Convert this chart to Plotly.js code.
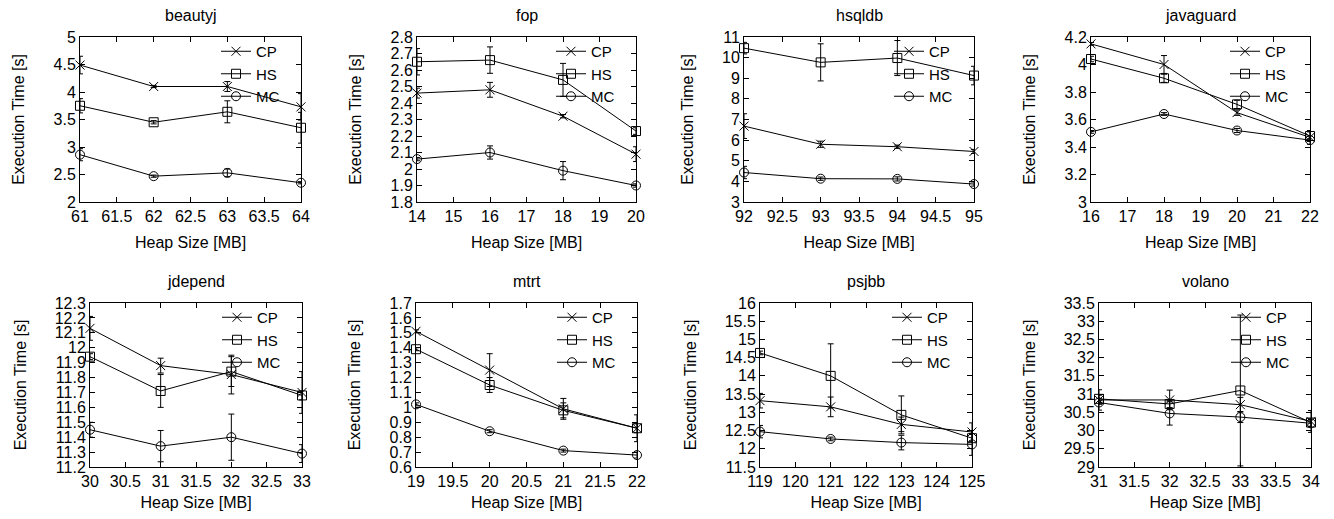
<!DOCTYPE html>
<html>
<head>
<meta charset="utf-8">
<script src="https://cdn.plot.ly/plotly-3.0.1.min.js"></script>
<style>html,body{margin:0;padding:0;background:#fff;}#chart{width:1334px;height:519px;}</style>
</head>
<body>
<div id="chart"></div>
<script>
// ---------- data ----------
const benchmarks = ['beautyj', 'fop', 'hsqldb', 'javaguard', 'jdepend', 'mtrt', 'psjbb', 'volano'];
const seriesNames = ['CP', 'HS', 'MC'];

const beautyjHeap = [61, 62, 63, 64];
const beautyjCP = [4.49, 4.10, 4.10, 3.73];
const beautyjCPErr = [0.16, 0.02, 0.09, 0.24];
const beautyjHS = [3.75, 3.45, 3.64, 3.35];
const beautyjHSErr = [0.13, 0.03, 0.20, 0.28];
const beautyjMC = [2.86, 2.47, 2.53, 2.35];
const beautyjMCErr = [0.11, 0.02, 0.07, 0.02];

const fopHeap = [14, 16, 18, 20];
const fopCP = [2.46, 2.48, 2.32, 2.09];
const fopCPErr = [0.03, 0.045, 0.01, 0.045];
const fopHS = [2.65, 2.66, 2.54, 2.23];
const fopHSErr = [0.08, 0.08, 0.10, 0.02];
const fopMC = [2.06, 2.10, 1.99, 1.90];
const fopMCErr = [0.01, 0.04, 0.055, 0.01];

const hsqldbHeap = [92, 93, 94, 95];
const hsqldbCP = [6.68, 5.80, 5.68, 5.45];
const hsqldbCPErr = [0.6, 0.15, 0.08, 0.1];
const hsqldbHS = [10.46, 9.77, 9.98, 9.13];
const hsqldbHSErr = [0.28, 0.9, 0.85, 0.45];
const hsqldbMC = [4.43, 4.13, 4.12, 3.87];
const hsqldbMCErr = [0.3, 0.08, 0.1, 0.1];

const javaguardHeap = [16, 18, 20, 22];
const javaguardCP = [4.15, 4.00, 3.65, 3.47];
const javaguardCPErr = [0.01, 0.065, 0.02, 0.05];
const javaguardHS = [4.04, 3.90, 3.71, 3.48];
const javaguardHSErr = [0.02, 0.03, 0.03, 0.03];
const javaguardMC = [3.51, 3.64, 3.52, 3.45];
const javaguardMCErr = [0.01, 0.01, 0.015, 0.01];

const jdependHeap = [30, 31, 32, 33];
const jdependCP = [12.13, 11.88, 11.82, 11.70];
const jdependCPErr = [0.08, 0.05, 0.13, 0.14];
const jdependHS = [11.94, 11.71, 11.84, 11.68];
const jdependHSErr = [0.02, 0.11, 0.10, 0.03];
const jdependMC = [11.45, 11.34, 11.40, 11.29];
const jdependMCErr = [0.05, 0.105, 0.155, 0.06];

const mtrtHeap = [19, 20, 21, 22];
const mtrtCP = [1.51, 1.25, 0.99, 0.86];
const mtrtCPErr = [0.01, 0.11, 0.07, 0.09];
const mtrtHS = [1.39, 1.15, 0.98, 0.86];
const mtrtHSErr = [0.01, 0.05, 0.05, 0.03];
const mtrtMC = [1.02, 0.84, 0.71, 0.68];
const mtrtMCErr = [0.01, 0.01, 0.01, 0.02];

const psjbbHeap = [119, 121, 123, 125];
const psjbbCP = [13.32, 13.15, 12.67, 12.46];
const psjbbCPErr = [0.2, 0.27, 0.2, 0.25];
const psjbbHS = [14.63, 14.00, 12.93, 12.29];
const psjbbHSErr = [0.05, 0.88, 0.52, 0.1];
const psjbbMC = [12.47, 12.27, 12.17, 12.12];
const psjbbMCErr = [0.17, 0.05, 0.2, 0.3];

const volanoHeap = [31, 32, 33, 34];
const volanoCP = [30.84, 30.84, 30.71, 30.25];
const volanoCPErr = [0.28, 0.27, 0.2, 0.3];
const volanoHS = [30.87, 30.73, 31.10, 30.22];
const volanoHSErr = [0.1, 0.1, 2.07, 0.1];
const volanoMC = [30.77, 30.47, 30.37, 30.20];
const volanoMCErr = [0.05, 0.32, 0.15, 0.1];

const panelData = {
  beautyj: [beautyjHeap, [beautyjCP, beautyjHS, beautyjMC], [beautyjCPErr, beautyjHSErr, beautyjMCErr]],
  fop: [fopHeap, [fopCP, fopHS, fopMC], [fopCPErr, fopHSErr, fopMCErr]],
  hsqldb: [hsqldbHeap, [hsqldbCP, hsqldbHS, hsqldbMC], [hsqldbCPErr, hsqldbHSErr, hsqldbMCErr]],
  javaguard: [javaguardHeap, [javaguardCP, javaguardHS, javaguardMC], [javaguardCPErr, javaguardHSErr, javaguardMCErr]],
  jdepend: [jdependHeap, [jdependCP, jdependHS, jdependMC], [jdependCPErr, jdependHSErr, jdependMCErr]],
  mtrt: [mtrtHeap, [mtrtCP, mtrtHS, mtrtMC], [mtrtCPErr, mtrtHSErr, mtrtMCErr]],
  psjbb: [psjbbHeap, [psjbbCP, psjbbHS, psjbbMC], [psjbbCPErr, psjbbHSErr, psjbbMCErr]],
  volano: [volanoHeap, [volanoCP, volanoHS, volanoMC], [volanoCPErr, volanoHSErr, volanoMCErr]]
};

// ---------- layout settings ----------
const W = 1334, H = 519;
// plot-area pixel boxes [left, right, top, bottom]
const boxes = [
  [80, 301, 37, 202], [417, 636, 37, 202], [744, 974, 37, 202], [1091, 1310, 37, 202],
  [90, 302, 303, 467], [416, 637, 303, 467], [760, 972, 303, 467], [1099, 1311, 303, 467]
];
const xRanges = [[61, 64], [14, 20], [92, 95], [16, 22], [30, 33], [19, 22], [119, 125], [31, 34]];
const xDticks = [0.5, 1, 0.5, 1, 0.5, 0.5, 1, 0.5];
const yRanges = [[2, 5], [1.8, 2.8], [3, 11], [3, 4.2], [11.2, 12.3], [0.6, 1.7], [11.5, 16], [29, 33.5]];
const yDticks = [0.5, 0.1, 1, 0.2, 0.1, 0.1, 0.5, 0.5];
const symbols = ['x-thin-open', 'square-open', 'circle-open'];
const FONT = 'Liberation Sans, Arial, Helvetica, sans-serif';

const traces = [];
const layout = {
  width: W, height: H,
  margin: {l: 0, r: 0, t: 0, b: 0},
  paper_bgcolor: '#ffffff', plot_bgcolor: '#ffffff',
  font: {family: FONT, size: 16, color: '#000'},
  showlegend: true,
  annotations: []
};

benchmarks.forEach((name, i) => {
  const n = i + 1;
  const suffix = n === 1 ? '' : String(n);
  const [heap, vals, errs] = panelData[name];
  const [l, r, t, b] = boxes[i];
  const legendId = 'legend' + suffix;
  const row2 = i >= 4;
  seriesNames.forEach((s, k) => {
    traces.push({
      type: 'scatter', mode: 'lines+markers',
      name: s, x: heap, y: vals[k],
      xaxis: 'x' + suffix, yaxis: 'y' + suffix,
      legend: legendId,
      line: {color: '#000', width: 1},
      marker: {symbol: symbols[k], size: 9, color: '#000', line: {color: '#000', width: 1}},
      error_y: {type: 'data', array: errs[k], visible: true, color: '#000', thickness: 1, width: 3},
      cliponaxis: false,
      hoverinfo: 'x+y+name'
    });
  });
  const common = {
    showline: true, linecolor: '#000', linewidth: 1, mirror: 'ticks',
    ticks: 'inside', ticklen: 5, tickwidth: 1, tickcolor: '#000',
    showgrid: false, zeroline: false,
    tickfont: {family: FONT, size: 16, color: '#000'}
  };
  layout['xaxis' + suffix] = Object.assign({}, common, {
    domain: [l / W, r / W],
    anchor: 'y' + suffix,
    range: xRanges[i], dtick: xDticks[i], tick0: xRanges[i][0],
    title: {text: 'Heap Size [MB]', font: {family: FONT, size: 16, color: '#000'}, standoff: row2 ? 7 : 12}
  });
  layout['yaxis' + suffix] = Object.assign({}, common, {
    domain: [1 - b / H, 1 - t / H],
    anchor: 'x' + suffix,
    range: yRanges[i], dtick: yDticks[i], tick0: yRanges[i][0],
    title: {text: 'Execution Time [s]', font: {family: FONT, size: 16, color: '#000'}, standoff: 24}
  });
  layout[legendId] = {
    x: (r - 16) / W, y: 1 - (t - 2) / H, xanchor: 'right', yanchor: 'top',
    bgcolor: 'rgba(0,0,0,0)', borderwidth: 0,
    font: {family: FONT, size: 15, color: '#000'},
    tracegroupgap: 0, itemclick: false, itemdoubleclick: false
  };
  layout.annotations.push({
    text: name, xref: 'paper', yref: 'paper',
    x: (l + r) / 2 / W, y: 1 - (t - 22) / H,
    xanchor: 'center', yanchor: 'middle', showarrow: false,
    font: {family: FONT, size: 16, color: '#000'}
  });
});

Plotly.newPlot('chart', traces, layout, {displayModeBar: false, staticPlot: true});
</script>
</body>
</html>
